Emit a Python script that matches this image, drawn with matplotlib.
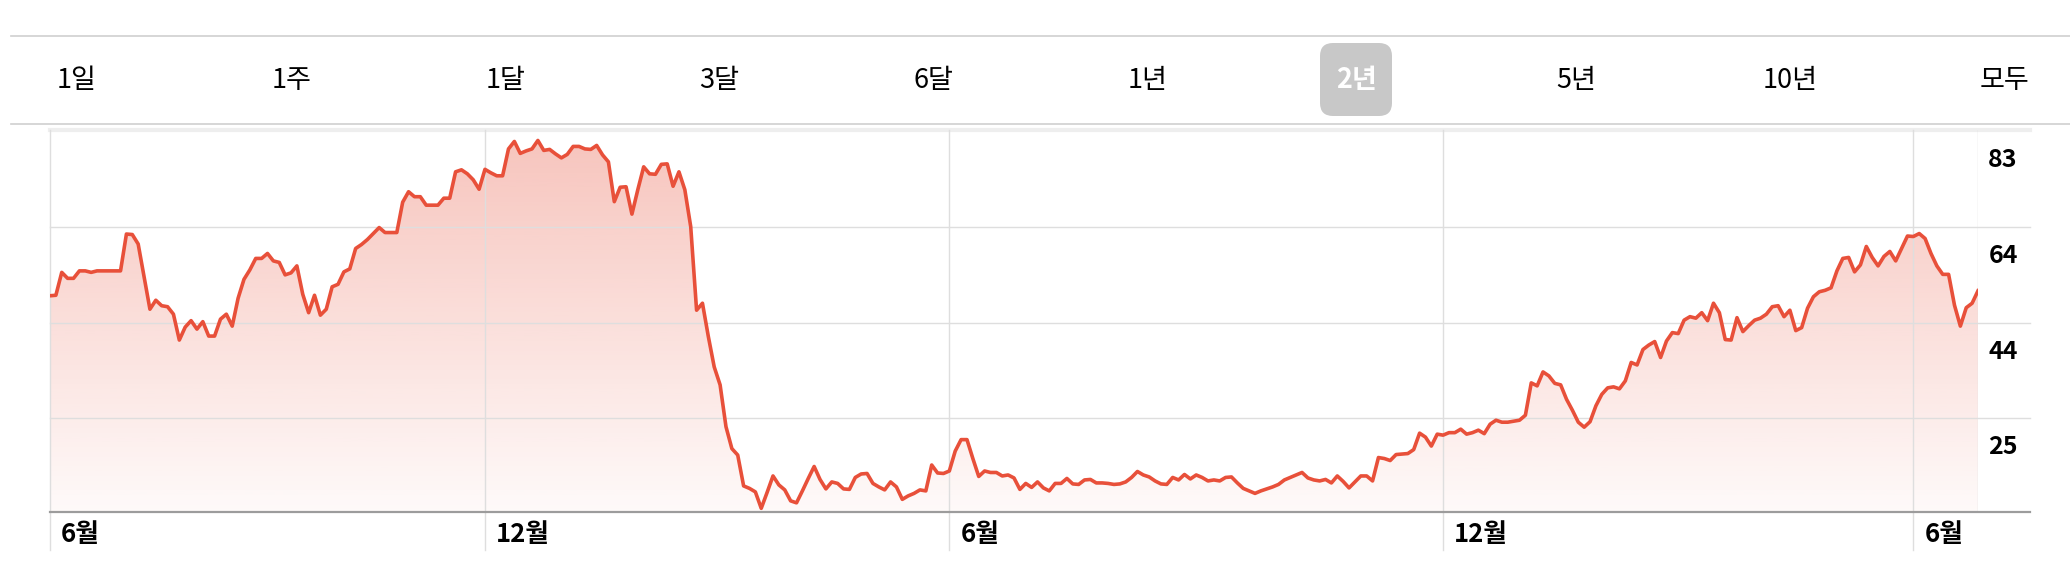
import numpy as np
import matplotlib.pyplot as plt
import matplotlib.colors as mcolors
from matplotlib.patches import FancyBboxPatch, Polygon
from matplotlib.transforms import ScaledTranslation

plt.rcParams['font.family'] = ['Noto Sans CJK KR', 'DejaVu Sans']

# range selector
ranges = ['1일', '1주', '1달', '3달', '6달', '1년', '2년', '5년', '10년', '모두']
selected = '2년'

# closing prices, roughly one point every trading day-and-a-half over 2 years
price = [
    49.9, 50.0, 54.6, 53.4, 53.4, 54.9, 54.9, 54.6, 54.9, 54.9,
    54.9, 54.9, 54.9, 62.3, 62.2, 60.3, 53.7, 47.2, 49.0, 47.9,
    47.7, 46.2, 41.0, 43.6, 44.9, 43.2, 44.7, 41.8, 41.8, 45.2,
    46.2, 43.8, 49.4, 53.2, 55.1, 57.4, 57.4, 58.4, 56.9, 56.6,
    54.1, 54.5, 55.9, 50.2, 46.5, 50.0, 46.0, 47.2, 51.7, 52.2,
    54.7, 55.3, 59.4, 60.2, 61.2, 62.4, 63.6, 62.6, 62.6, 62.6,
    68.7, 70.8, 69.8, 69.8, 68.1, 68.1, 68.1, 69.5, 69.5, 74.8,
    75.2, 74.4, 73.2, 71.3, 75.3, 74.6, 74.0, 74.0, 79.4, 80.9,
    78.5, 79.0, 79.4, 81.1, 79.1, 79.3, 78.4, 77.6, 78.3, 79.9,
    79.9, 79.4, 79.3, 80.1, 78.2, 76.8, 68.8, 71.7, 71.8, 66.3,
    71.2, 75.8, 74.4, 74.3, 76.3, 76.4, 71.9, 74.8, 71.2, 63.8,
    47.0, 48.4, 41.7, 35.6, 32.0, 23.6, 19.2, 17.9, 11.7, 11.2,
    10.5, 7.2, 10.4, 13.7, 11.9, 10.9, 8.7, 8.3, 10.7, 13.2,
    15.6, 13.0, 11.1, 12.5, 12.2, 11.1, 11.0, 13.4, 14.1, 14.2,
    12.2, 11.5, 10.9, 12.5, 11.5, 9.0, 9.7, 10.2, 10.9, 10.7,
    15.9, 14.3, 14.2, 14.7, 18.7, 21.0, 21.0, 17.2, 13.6, 14.7,
    14.4, 14.4, 13.7, 13.9, 13.3, 11.0, 12.2, 11.4, 12.5, 11.3,
    10.7, 12.2, 12.2, 13.2, 12.1, 12.0, 12.9, 13.0, 12.3, 12.3,
    12.2, 12.0, 12.1, 12.5, 13.4, 14.6, 13.9, 13.5, 12.7, 12.1,
    12.0, 13.4, 12.9, 14.0, 13.1, 13.9, 13.4, 12.7, 12.9, 12.7,
    13.4, 13.5, 12.3, 11.2, 10.7, 10.2, 10.7, 11.1, 11.5, 12.0,
    12.9, 13.4, 13.9, 14.4, 13.3, 12.9, 12.7, 13.0, 12.3, 13.7,
    12.6, 11.3, 12.5, 13.7, 13.7, 12.7, 17.4, 17.2, 16.8, 18.0,
    18.1, 18.2, 19.0, 22.3, 21.5, 19.7, 22.1, 21.9, 22.4, 22.4,
    23.1, 22.1, 22.4, 22.9, 22.2, 24.1, 24.9,
    24.5, 24.5, 24.7, 24.9, 25.9, 32.4, 31.8, 34.6, 33.8, 32.3,
    32.0, 29.1, 26.9, 24.5, 23.5, 24.6, 27.8, 30.1, 31.4, 31.6,
    31.2, 32.8, 36.5, 36.0, 39.1, 40.0, 40.7, 37.5, 40.8, 42.5,
    42.3, 45.0, 45.7, 45.4, 46.5, 44.9, 48.4, 46.5, 41.1, 41.0,
    45.5, 42.7, 43.9, 45.0, 45.4, 46.2, 47.7, 47.9, 45.7, 47.0,
    42.9, 43.5, 47.4, 49.7, 50.7, 51.0, 51.5, 54.9, 57.4, 57.6,
    54.7, 56.1, 59.8, 57.6, 55.9, 57.8, 58.8, 56.9, 59.4, 61.9,
    61.8, 62.4, 61.4, 58.4, 55.9, 54.2, 54.2, 48.0, 43.8, 47.5,
    48.4, 50.9,
]

# month boundaries (index into price) and their labels
month_pos = [0, 74, 153, 237, 317]
month_labels = ['6월', '12월', '6월', '12월', '6월']

ytick_vals = [25.25, 44.5, 63.75, 83.0]
ytick_labels = ['25', '44', '64', '83']
ylo, yhi = 6.46, 83.2

line_color = '#e8503a'
grid_color = '#dedede'

W, H = 2070, 572
fig = plt.figure(figsize=(W / 100, H / 100), dpi=100)
px = fig.dpi_scale_trans  # inches -> 100 px per unit

# separator lines around the range selector
for yy in (36, 124):
    fig.add_artist(plt.Line2D([11 / W, 1], [1 - yy / H] * 2, color='#cfcfcf', lw=1.2))

for i, r in enumerate(ranges):
    cx = (77 + 214.2 * i) / 100
    cy = (H - 80) / 100
    if r == selected:
        box = FancyBboxPatch((13.20, (H - 116) / 100), 0.72, 0.73,
                             boxstyle='round,pad=0,rounding_size=0.13',
                             transform=px, facecolor='#c8c8c8', edgecolor='none')
        fig.add_artist(box)
        fig.text(13.56, cy, r, transform=px, ha='center', va='center',
                 fontsize=19.5, color='white', fontweight='bold')
    else:
        fig.text(cx, cy, r, transform=px, ha='center', va='center',
                 fontsize=19.5, color='black', fontweight='medium')

ax = fig.add_axes([50 / W, (H - 512) / H, 1928 / W, 382 / H])
x = np.arange(len(price))
ax.set_xlim(0, len(price) - 1)
ax.set_ylim(ylo, yhi)
ax.axis('off')

# gradient fill under the line
grad = np.zeros((256, 1, 4))
grad[:, 0, :3] = mcolors.to_rgb(line_color)
grad[:, 0, 3] = np.linspace(0.03, 0.34, 256)
im = ax.imshow(grad, extent=(0, len(price) - 1, ylo, yhi), origin='lower',
               aspect='auto', zorder=1)
verts = [(0, ylo)] + list(zip(x, price)) + [(x[-1], ylo)]
clip = Polygon(verts, closed=True, facecolor='none', edgecolor='none')
ax.add_patch(clip)
im.set_clip_path(clip)

ax.plot(x, price, color=line_color, lw=2.6, solid_joinstyle='round', zorder=4)

# grid
xr = 1 + 52 / 1928
for v in ytick_vals[:-1]:
    ax.axhline(v, xmin=0, xmax=xr, color=grid_color, lw=1, zorder=2, clip_on=False)
ax.axhline(yhi, xmin=0, xmax=xr, color='#eeeeee', lw=3, zorder=2, clip_on=False)
ax.axhline(ylo, xmin=0, xmax=xr, color='#9c9c9c', lw=1.6, zorder=5, clip_on=False)
for p in month_pos:
    ax.axvline(p, ymin=-38 / 382, ymax=1, color=grid_color, lw=1, zorder=2, clip_on=False)
ax.axvline(len(price) - 1, ymin=0, ymax=1, color=grid_color, lw=1, zorder=2)

# y labels sit just under their gridlines, right of the plot
ylab_tr = ax.get_yaxis_transform() + ScaledTranslation(0, -0.29, px)
for v, s in zip(ytick_vals, ytick_labels):
    ax.text(1 + 25 / 1928, v, s, transform=ylab_tr, ha='center', va='center',
            fontsize=18, fontweight='bold', clip_on=False)

# month labels below the axis
xlab_tr = ax.get_xaxis_transform() + ScaledTranslation(0.11, -0.23, px)
for p, s in zip(month_pos, month_labels):
    ax.text(p, 0, s, transform=xlab_tr, ha='left', va='center',
            fontsize=18.5, fontweight='bold', clip_on=False)

fig.savefig('out.png', dpi=100)
